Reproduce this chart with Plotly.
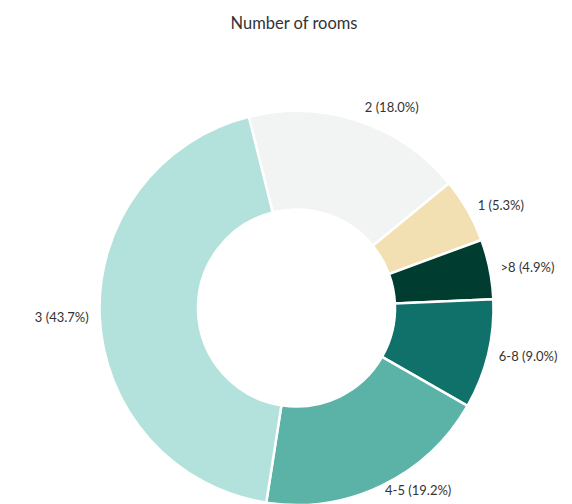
import plotly.graph_objects as go

labels = ['2', '1', '>8', '6-8', '4-5', '3']
values = [18.0, 5.3, 4.9, 9.0, 19.2, 43.7]
colors = ['#f1f4f3', '#f2dfb2', '#003c30', '#0f716a', '#5bb3a7', '#b3e2dd']

total = sum(values)
label_text = [f'{l} ({v / total:.1%})' for l, v in zip(labels, values)]
# the bottom label sits closer to the ring than the others
near = ['4-5']
text_far = [t if l not in near else '' for l, t in zip(labels, label_text)]
text_near = [t if l in near else '' for l, t in zip(labels, label_text)]

fig = go.Figure()

# visible donut
fig.add_trace(go.Pie(
    labels=labels,
    values=values,
    sort=False,
    direction='clockwise',
    rotation=-14,
    hole=0.5,
    marker=dict(colors=colors, line=dict(color='white', width=2.5)),
    textinfo='none',
    domain=dict(x=[0.160, 0.8488], y=[0.0139, 0.7956]),
    showlegend=False,
))

# transparent copies, only to place the outside labels a bit away from the ring
for txt, dom in [(text_far, dict(x=[0.1477, 0.8610], y=[0.0, 0.8095])),
                 (text_near, dict(x=[0.1635, 0.8453], y=[0.0179, 0.7917]))]:
    fig.add_trace(go.Pie(
        labels=labels,
        values=values,
        sort=False,
        direction='clockwise',
        rotation=-14,
        marker=dict(colors=['rgba(0,0,0,0)'] * len(labels), line=dict(width=0)),
        text=txt,
        textinfo='text',
        textposition='outside',
        textfont=dict(size=13, color='#333333'),
        domain=dom,
        automargin=False,
        hoverinfo='skip',
        showlegend=False,
    ))

fig.update_layout(
    width=572,
    height=504,
    title=dict(text='Number of rooms', x=0.5, xanchor='center', y=0.982,
               font=dict(size=16.5, color='#333333')),
    font=dict(family='Lato, sans-serif'),
    margin=dict(l=0, r=0, t=0, b=0),
    paper_bgcolor='white',
)

fig.write_html("out.html")
